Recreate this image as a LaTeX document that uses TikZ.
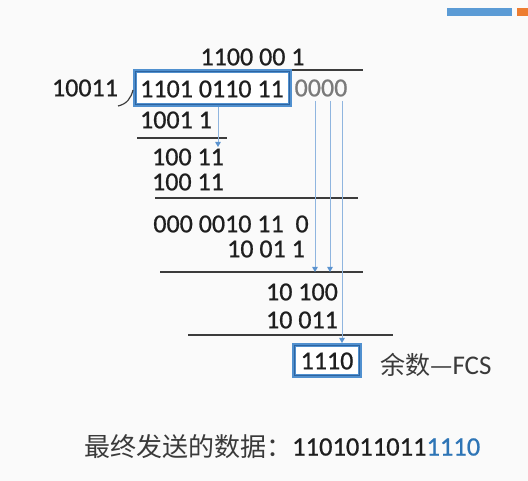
\documentclass[tikz,border=0pt]{standalone}
\usepackage{fontspec}
\setmainfont{Carlito}
\newfontfamily\digitfont{Carlito}[FakeBold=0.7]
\newfontfamily\cjk{Noto Sans CJK SC}
\usetikzlibrary{arrows.meta,calc}
\definecolor{bg}{HTML}{FAFAFA}
\definecolor{ink}{HTML}{1E1E1E}
\definecolor{cjkink}{HTML}{3A3A3A}
\definecolor{rulecol}{HTML}{3C3C3C}
\definecolor{framecol}{HTML}{5090CF}
\definecolor{frameedge}{HTML}{2E64A0}
\definecolor{guide}{HTML}{8FB5DF}
\definecolor{guidetip}{HTML}{5B93CF}
\definecolor{padcol}{HTML}{7A7A7A}
\definecolor{accent}{HTML}{2E75B6}
\definecolor{barblue}{HTML}{5B9BD5}
\definecolor{barorange}{HTML}{ED7D31}
\begin{document}
\begin{tikzpicture}[x=1pt,y=-1pt,
  num/.style={inner sep=0pt, text=ink, font=\digitfont\fontsize{26}{30}\selectfont},
  cjktext/.style={inner sep=0pt, text=cjkink, font=\cjk\fontsize{26}{30}\selectfont},
  hrule/.style={draw=rulecol, line width=1.2pt},
  framebox/.style={draw=framecol, line width=4pt, fill=white, inner sep=0pt},
  guideline/.style={draw=guide, line width=0.9pt,
    -{Triangle[width=5.5pt,length=5pt,color=guidetip]}}]

% page and background
\useasboundingbox (0,0) rectangle (528,481);
\fill[bg] (0,0) rectangle (528,481);

% corner bar
\fill[barblue] (447,8) rectangle (512,16);
\fill[barorange] (517,8) rectangle (528,16);

% frames around the dividend and the remainder
\node[framebox, minimum width=155, minimum height=34] (divbox) at (212.5,88) {};
\draw[frameedge, line width=0.7pt]
  ($(divbox.north west)+(2.2,2.2)$) rectangle ($(divbox.south east)+(-2.2,-2.2)$);
\node[framebox, minimum width=66, minimum height=31] (fcsbox) at (327,360.5) {};
\draw[frameedge, line width=0.7pt]
  ($(fcsbox.north west)+(2.2,2.2)$) rectangle ($(fcsbox.south east)+(-2.2,-2.2)$);

% division bracket
\coordinate (brA) at (118,106);
\coordinate (brB) at (133,90);
\draw[rulecol, line width=1.2pt] (brA) .. controls (127,104) and (131,98) .. (brB);

% horizontal rules
\coordinate (r1a) at (292,70);  \coordinate (r1b) at (363,70);
\coordinate (r2a) at (137,138); \coordinate (r2b) at (227,138);
\coordinate (r3a) at (155,198); \coordinate (r3b) at (358,198);
\coordinate (r4a) at (160,272); \coordinate (r4b) at (363,272);
\coordinate (r5a) at (188,335); \coordinate (r5b) at (393,335);
\draw[hrule] (r1a) -- (r1b);
\draw[hrule] (r2a) -- (r2b);
\draw[hrule] (r3a) -- (r3b);
\draw[hrule] (r4a) -- (r4b);
\draw[hrule] (r5a) -- (r5b);

% numbers of the long division
\node[num] (quot) at (252.5,57) {1100 00 1};
\node[num] (divisor) at (85,88) {10011};
\node[num] (dividend) at (212,89) {1101 0110 11};
\node[num, text=padcol] (pad) at (321,88) {0000};
\node[num] (s1) at (176,120) {1001 1};
\node[num] (s2) at (188,157) {100 11};
\node[num] (s3) at (188,182) {100 11};
\node[num] (s4) at (231,224) {000 0010 11\ \ 0};
\node[num] (s5) at (266,249) {10 01 1};
\node[num] (s6) at (302,292) {10 100};
\node[num] (s7) at (302,320) {10 011};
\node[num] (fcs) at (327,361) {1110};
\node[inner sep=0pt, text=cjkink, anchor=west] (fcslabel) at (380,365)
  {{\cjk\fontsize{25}{30}\selectfont 余数—}{\fontsize{27}{30}\selectfont FCS}};

% bring-down guides
\coordinate (g0) at (218,107);  \coordinate (g0e) at (218,147);
\coordinate (g1) at (315,101);  \coordinate (g1e) at (315,272);
\coordinate (g2) at (330,101);  \coordinate (g2e) at (330,272);
\coordinate (g3) at (342,101);
\draw[guideline] (g0) -- (g0e);
\draw[guideline] (g1) -- (g1e);
\draw[guideline] (g2) -- (g2e);
\draw[guideline] (g3) -- (fcsbox.north -| g3);

% transmitted frame
\node[cjktext, anchor=west] (sentlabel) at (84,447) {最终发送的数据：};
\node[inner sep=0pt, anchor=west, font=\digitfont\fontsize{26.5}{30}\selectfont] (sentbits)
  at (292,447) {\textcolor{ink}{1101011011}\textcolor{accent}{1110}};
\end{tikzpicture}
\end{document}
